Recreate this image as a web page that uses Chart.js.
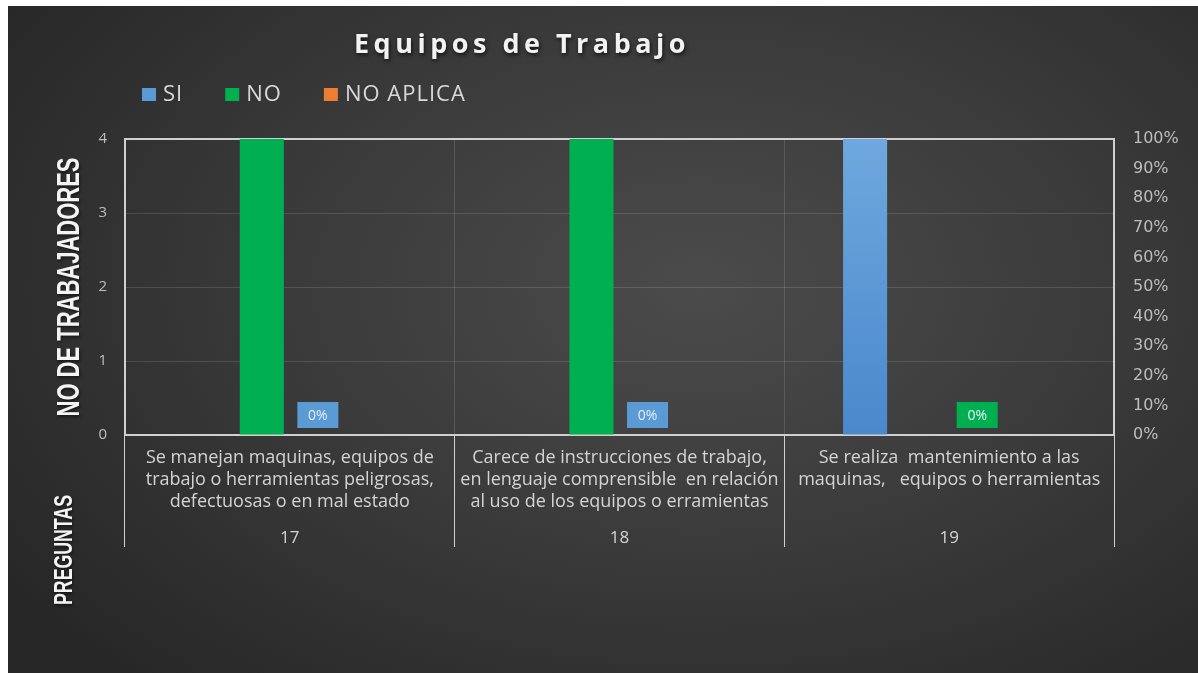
<!DOCTYPE html>
<html lang="es">
<head>
<meta charset="utf-8">
<title>Equipos de Trabajo</title>
<script src="https://cdn.jsdelivr.net/npm/chart.js@4.4.1/dist/chart.umd.min.js"></script>
<style>
    html, body { margin: 0; padding: 0; background: #ffffff; }
    #wrap {
        position: absolute;
        left: 8px;
        top: 6px;
        width: 1190px;
        height: 667px;
        background: radial-gradient(ellipse 70% 80% at 58% 42%, #4b4b4b 0%, #3c3c3c 45%, #272727 100%);
    }
    canvas { display: block; }
</style>
</head>
<body>
<div id="wrap"><canvas id="equiposChart" width="1190" height="667"></canvas></div>
<script>
// Preguntas (texto de cada categoria) y su numero
const questionText = [
    ['Se manejan maquinas, equipos de', 'trabajo o herramientas peligrosas,', 'defectuosas o en mal estado'],
    ['Carece de instrucciones de trabajo,', 'en lenguaje comprensible  en relación', 'al uso de los equipos o erramientas'],
    ['Se realiza  mantenimiento a las', 'maquinas,   equipos o herramientas']
];
const questionNumbers = ['17', '18', '19'];

// Respuestas (no. de trabajadores)
const siValues = [0, 0, 4];
const noValues = [4, 4, 0];
const noAplicaValues = [0, 0, 0];
// Porcentaje mostrado en las etiquetas
const pctValues = [0, 0, 0];

// Ticks
const countTicks = [0, 1, 2, 3, 4];
const pctTicks = [0, 10, 20, 30, 40, 50, 60, 70, 80, 90, 100];

// Colours
const BLUE = '#5b9bd5';
const GREEN = '#00b050';
const ORANGE = '#ed7d31';
const FRAME = '#d0d0d0';
const FAINT = 'rgba(255,255,255,0.13)';
const legendColors = [BLUE, GREEN, ORANGE];
const pctBoxColors = [BLUE, BLUE, GREEN];

// Draw text squeezed/stretched to a given length
function fitText(ctx, text, x, y, length, angle) {
    const w = ctx.measureText(text).width;
    ctx.save();
    ctx.translate(x, y);
    ctx.rotate(angle);
    ctx.scale(length / w, 1);
    ctx.fillText(text, 0, 0);
    ctx.restore();
}

// Title, legend and the axis captions
const headerPlugin = {
    id: 'header',
    afterDraw(chart) {
        const ctx = chart.ctx;
        ctx.save();

        // title
        ctx.font = 'bold 27px "Open Sans"';
        ctx.letterSpacing = '4.5px';
        ctx.textAlign = 'center';
        ctx.textBaseline = 'middle';
        ctx.shadowColor = 'rgba(0,0,0,0.7)';
        ctx.shadowBlur = 4;
        ctx.shadowOffsetX = 1;
        ctx.shadowOffsetY = 2;
        ctx.fillStyle = '#f2f2f2';
        ctx.fillText('Equipos de Trabajo', 514, 39);
        ctx.shadowColor = 'transparent';

        // legend
        ctx.font = '22px "Open Sans"';
        ctx.letterSpacing = '1px';
        ctx.textAlign = 'left';
        let x = 134;
        chart.data.datasets.slice(0, 3).forEach((ds, i) => {
            ctx.fillStyle = legendColors[i];
            ctx.fillRect(x, 82, 14, 13);
            ctx.fillStyle = '#d9d9d9';
            ctx.fillText(ds.label, x + 21, 89);
            x += 21 + ctx.measureText(ds.label).width + 42;
        });
        ctx.letterSpacing = '0px';

        // axis captions (condensed bold)
        ctx.textAlign = 'center';
        ctx.fillStyle = '#f4f4f4';
        ctx.shadowColor = 'rgba(0,0,0,0.5)';
        ctx.shadowBlur = 3;
        ctx.font = 'bold 31px "Liberation Sans"';
        fitText(ctx, 'NO DE TRABAJADORES', 62, 281, 259, -Math.PI / 2);
        ctx.font = 'bold 25px "Liberation Sans"';
        fitText(ctx, 'PREGUNTAS', 57, 544, 110, -Math.PI / 2);
        ctx.restore();
    }
};

// "0%" boxes next to the bars
const pctLabelPlugin = {
    id: 'pctLabels',
    afterDatasetsDraw(chart) {
        const ctx = chart.ctx;
        const meta = chart.getDatasetMeta(2);
        const base = chart.scales.y.getPixelForValue(0);
        ctx.save();
        ctx.font = '14px "Open Sans"';
        ctx.textAlign = 'center';
        ctx.textBaseline = 'middle';
        meta.data.forEach((bar, i) => {
            const w = 41, h = 26;
            ctx.fillStyle = pctBoxColors[i];
            ctx.fillRect(bar.x - w / 2, base - 7 - h, w, h);
            ctx.fillStyle = '#e6eef8';
            ctx.fillText(pctValues[i] + '%', bar.x, base - 7 - h / 2 + 1);
        });
        ctx.restore();
    }
};

// Blue bars get a soft vertical gradient
function blueFill(context) {
    const area = context.chart.chartArea;
    if (!area) return BLUE;
    const g = context.chart.ctx.createLinearGradient(0, area.top, 0, area.bottom);
    g.addColorStop(0, '#6fa8de');
    g.addColorStop(1, '#4a88cc');
    return g;
}

document.addEventListener('DOMContentLoaded', function() {
    const ctx = document.getElementById('equiposChart').getContext('2d');
    new Chart(ctx, {
        type: 'bar',
        data: {
            labels: questionText,
            datasets: [
                { label: 'SI', data: siValues, backgroundColor: blueFill, yAxisID: 'y' },
                { label: 'NO', data: noValues, backgroundColor: GREEN, yAxisID: 'y' },
                { label: 'NO APLICA', data: noAplicaValues, backgroundColor: ORANGE, yAxisID: 'y' },
                { label: 'PORCENTAJE', data: pctValues, backgroundColor: 'transparent', yAxisID: 'y1' }
            ]
        },
        options: {
            responsive: false,
            animation: false,
            devicePixelRatio: 1,
            categoryPercentage: 0.68,
            barPercentage: 0.786,
            layout: {
                padding: { top: 133, left: 40, right: 14, bottom: 126 }
            },
            plugins: {
                legend: { display: false },
                title: { display: false },
                tooltip: { enabled: false }
            },
            scales: {
                x: {
                    type: 'category',
                    position: 'bottom',
                    offset: true,
                    weight: 0,
                    afterFit: function(scale) { scale.height = 78; },
                    grid: {
                        offset: true,
                        drawTicks: true,
                        tickLength: 78,
                        tickColor: FRAME,
                        tickWidth: 1,
                        color: function(c) {
                            const n = questionText.length;
                            return (c.index === 0 || c.index === n) ? 'transparent' : FAINT;
                        }
                    },
                    border: { display: true, color: FRAME, width: 2 },
                    ticks: {
                        autoSkip: false,
                        maxRotation: 0,
                        minRotation: 0,
                        padding: -66,
                        color: '#d4d4d4',
                        font: { family: '"Open Sans"', size: 18, lineHeight: '22px' }
                    }
                },
                x2: {
                    type: 'category',
                    position: 'bottom',
                    labels: questionNumbers,
                    offset: true,
                    weight: 1,
                    afterFit: function(scale) { scale.height = 34; },
                    grid: {
                        offset: true,
                        drawOnChartArea: false,
                        drawTicks: true,
                        tickLength: 34,
                        tickColor: FRAME,
                        tickWidth: 1
                    },
                    border: { display: false },
                    ticks: {
                        autoSkip: false,
                        maxRotation: 0,
                        padding: -20,
                        color: '#d4d4d4',
                        font: { family: '"Open Sans"', size: 17, lineHeight: '22px' }
                    }
                },
                y: {
                    position: 'left',
                    min: countTicks[0],
                    max: countTicks[countTicks.length - 1],
                    afterBuildTicks: function(scale) {
                        scale.ticks = countTicks.map(v => ({ value: v }));
                    },
                    afterFit: function(scale) { scale.width = 77; },
                    grid: {
                        drawTicks: false,
                        color: function(c) {
                            if (c.tick.value === countTicks[countTicks.length - 1]) return FRAME;
                            if (c.tick.value === 0) return 'transparent';
                            return FAINT;
                        },
                        lineWidth: function(c) {
                            return c.tick.value === countTicks[countTicks.length - 1] ? 2 : 1;
                        }
                    },
                    border: { display: true, color: FRAME, width: 2 },
                    ticks: {
                        padding: 18,
                        color: '#bdbdbd',
                        font: { family: '"Open Sans"', size: 15 }
                    }
                },
                y1: {
                    position: 'right',
                    min: pctTicks[0],
                    max: pctTicks[pctTicks.length - 1],
                    afterBuildTicks: function(scale) {
                        scale.ticks = pctTicks.map(v => ({ value: v }));
                    },
                    afterFit: function(scale) { scale.width = 70; },
                    grid: { drawOnChartArea: false, drawTicks: false },
                    border: { display: true, color: FRAME, width: 2 },
                    ticks: {
                        padding: 19,
                        color: '#bdbdbd',
                        font: { family: '"DejaVu Sans"', size: 16 },
                        callback: function(value) {
                            return value + '%';
                        }
                    }
                }
            }
        },
        plugins: [pctLabelPlugin, headerPlugin]
    });
});
</script>
</body>
</html>
